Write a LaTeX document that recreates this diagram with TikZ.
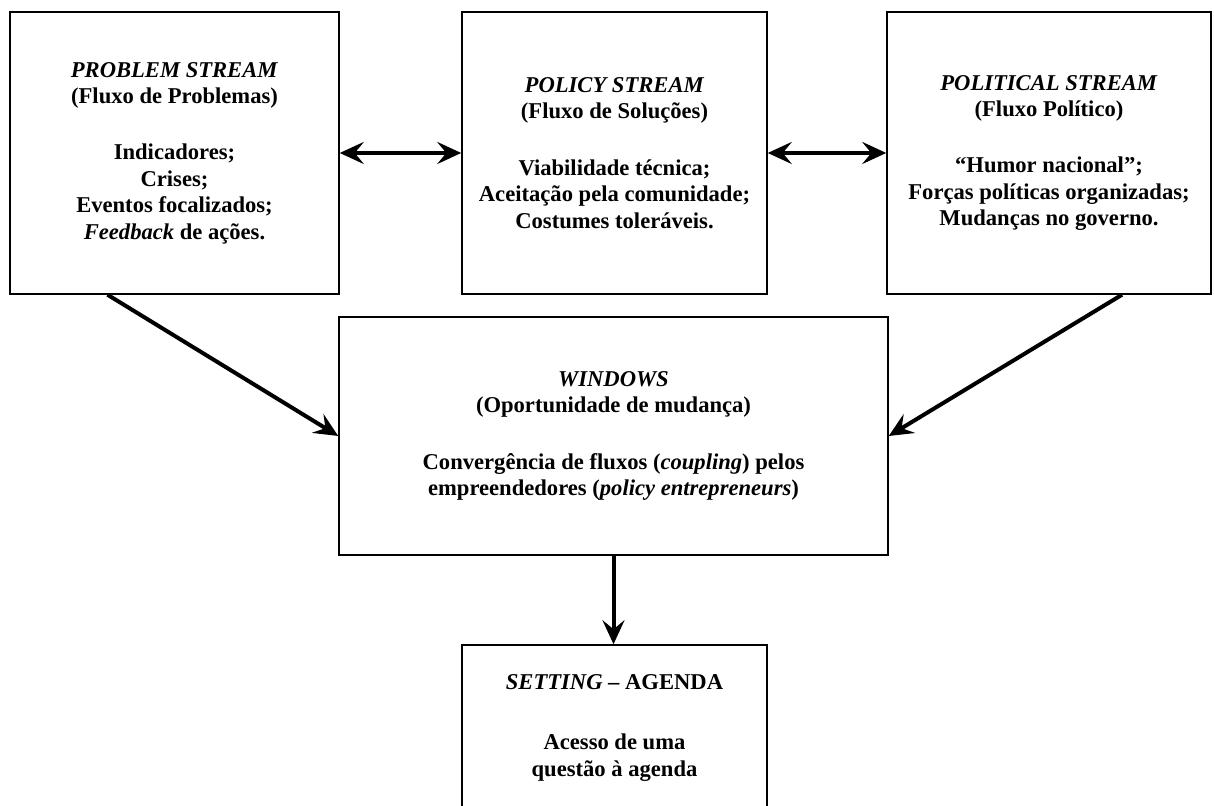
\documentclass[tikz,border=0pt]{standalone}
\usepackage{fontspec}
\setmainfont{Liberation Serif}
\usetikzlibrary{arrows.meta,calc}
\tikzset{
	box/.style={draw, line width=0.75pt, inner sep=0pt, align=center,
		font=\fontsize{11.3}{13.2}\selectfont\bfseries},
	tip/.tip={Stealth[length=12pt,width=11pt,inset=4.5pt]},
	flow/.style={line width=2pt, -tip},
	twoway/.style={line width=2pt, tip-tip},
}
\begin{document}
\begin{tikzpicture}[x=0.5pt,y=0.5pt]
			\clip (0,0) rectangle (1214,806);
			\fill[white] (0,0) rectangle (1214,806);
			\node	(prob) at (174.5,653) [box, minimum width=164.5pt, minimum height=141pt]
				{\textit{PROBLEM STREAM}\\(Fluxo de Problemas)\\[15pt]Indicadores;\\Crises;\\Eventos focalizados;\\\textit{Feedback} de ações.};
			\node	(pol) at (614.5,653) [box, minimum width=152.5pt, minimum height=141pt]
				{\textit{POLICY STREAM}\\(Fluxo de Soluções)\\[15pt]Viabilidade técnica;\\Aceitação pela comunidade;\\Costumes toleráveis.};
			\node	(polit) at (1049,653) [box, minimum width=162pt, minimum height=141pt]
				{\textit{POLITICAL STREAM}\\(Fluxo Político)\\[15pt]“Humor nacional”;\\Forças políticas organizadas;\\Mudanças no governo.};
			\node	(win) at (613.5,370) [box, minimum width=274.5pt, minimum height=119pt]
				{\textit{WINDOWS}\\(Oportunidade de mudança)\\[15pt]Convergência de fluxos (\textit{coupling}) pelos\\empreendedores (\textit{policy entrepreneurs})};
			\node	(set) at (614.5,78) [box, minimum width=152.5pt, minimum height=83pt]
				{\textit{SETTING} -- AGENDA\\[17pt]Acesso de uma\\questão à agenda};
			\draw 
			(prob) edge[twoway] (pol)
			(pol) edge[twoway] (polit)
			($(prob.south)+(-67,0)$) edge[flow] (win.west)
			($(polit.south)+(73,0)$) edge[flow] (win.east)
			(win.south) edge[flow] (win.south |- set.north)
			;
		\end{tikzpicture}
\end{document}
